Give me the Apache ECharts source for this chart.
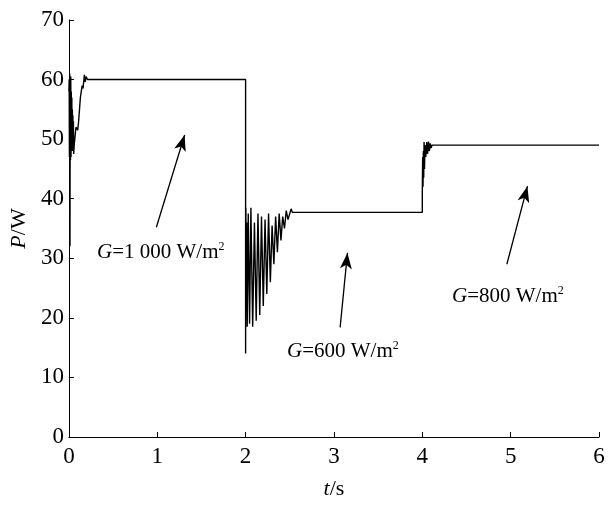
<!DOCTYPE html>
<html>
<head>
<meta charset="utf-8">
<script src="https://cdn.jsdelivr.net/npm/echarts@6/dist/echarts.min.js"></script>
<style>
  html, body { margin: 0; padding: 0; background: #fff; }
  #chart { width: 613px; height: 511px; }
</style>
</head>
<body>
<div id="chart"></div>
<script>
// time (s) and power (W)
const times = [
  0, 0.003, 0.006, 0.009, 0.012, 0.015, 0.018, 0.021, 0.024, 0.027, 0.03, 0.033, 0.036, 0.039, 0.042, 0.045, 0.048, 0.051, 0.054,
  0.06, 0.08, 0.1, 0.11, 0.13, 0.15, 0.16, 0.175, 0.185, 0.195, 0.21,
  2.0, 2.0, 2.003, 2.008, 2.012, 2.018, 2.03, 2.045, 2.06, 2.08, 2.1, 2.12, 2.14, 2.16, 2.18, 2.2, 2.22,
  2.24, 2.26, 2.28, 2.3, 2.32, 2.34, 2.36, 2.38, 2.4, 2.42, 2.44, 2.46, 2.48, 2.5, 2.515, 2.53,
  4.0, 4.0, 4.004, 4.008, 4.012, 4.016, 4.02, 4.025, 4.03, 4.04, 4.05, 4.06, 4.07, 4.08, 4.09, 4.1, 4.11,
  6.0
];
const power = [
  58, 60, 47, 61, 32, 59, 46.5, 60.5, 47, 58, 48, 57, 49, 55, 48, 54, 50, 53, 47.5,
  49, 52, 51.5, 53, 57, 59, 58.5, 60.8, 59.6, 60.5, 60,
  60, 14, 38.5, 24, 36, 18.5, 37.5, 19, 38.5, 18.5, 36, 19.5, 37.5, 20.5, 37, 22, 36.5,
  24, 37.5, 26, 35.5, 29, 37, 31, 37.5, 33, 37, 35, 38, 36.5, 37.5, 38.3, 37.7,
  37.7, 41, 47, 42, 48, 43.5, 49.5, 45, 49, 47, 49.5, 47.5, 49.6, 48, 49.3, 48.5, 49,
  49
];
const xTicks = { min: 0, max: 6, step: 1 };
const yTicks = { min: 0, max: 70, step: 10 };

// arrows: [tail t, tail P, head t, head P]
const arrows = [
  [0.99, 35.2, 1.31, 50.7],
  [3.07, 18.4, 3.153, 30.9],
  [4.957, 29.0, 5.19, 42.1]
];
const labels = ['1 000', '600', '800'];

const serif = 'Liberation Serif';
const chart = echarts.init(document.getElementById('chart'));

const seriesData = times.map((t, i) => [t, power[i]]);

const option = {
  animation: false,
  backgroundColor: '#fff',
  grid: { left: 67, right: 14, top: 20, bottom: 74 },
  xAxis: {
    type: 'value',
    min: xTicks.min, max: xTicks.max, interval: xTicks.step,
    name: '{i|t}/s',
    nameLocation: 'middle',
    nameGap: 41,
    nameTextStyle: {
      fontFamily: serif, fontSize: 22, color: '#000',
      rich: { i: { fontFamily: serif, fontSize: 22, fontStyle: 'italic', color: '#000' } }
    },
    axisLine: { lineStyle: { color: '#000', width: 1 } },
    axisTick: { inside: true, length: 5, lineStyle: { color: '#000' } },
    axisLabel: { fontFamily: serif, fontSize: 23, color: '#000', margin: 8 },
    splitLine: { show: false }
  },
  yAxis: {
    type: 'value',
    min: yTicks.min, max: yTicks.max, interval: yTicks.step,
    name: '{i|P}/W',
    nameLocation: 'middle',
    nameGap: 33,
    nameRotate: 90,
    nameTextStyle: {
      fontFamily: serif, fontSize: 22, color: '#000',
      rich: { i: { fontFamily: serif, fontSize: 22, fontStyle: 'italic', color: '#000' } }
    },
    axisLine: { show: true, lineStyle: { color: '#000', width: 1 } },
    axisTick: { show: true, inside: true, length: 5, lineStyle: { color: '#000' } },
    axisLabel: { fontFamily: serif, fontSize: 23, color: '#000', margin: 5 },
    splitLine: { show: false }
  },
  series: [{
    type: 'line',
    data: seriesData,
    showSymbol: false,
    lineStyle: { color: '#000', width: 1.4 },
    markLine: {
      silent: true,
      symbol: ['none', 'arrow'],
      symbolSize: [9, 16],
      label: { show: false },
      lineStyle: { color: '#000', width: 1.3, type: 'solid' },
      data: arrows.map(a => [{ coord: [a[0], a[1]] }, { coord: [a[2], a[3]] }])
    }
  }]
};
chart.setOption(option);

// annotation text below each arrow tail
const textPos = [[97, 254], [287, 353], [452, 298]];
chart.setOption({
  graphic: labels.map((v, i) => ({
    type: 'text',
    left: textPos[i][0],
    top: textPos[i][1] - 13,
    style: {
      text: '{i|G}=' + v + ' W/m{s|2}',
      font: '21px "' + serif + '"',
      fill: '#000',
      rich: {
        i: { fontFamily: serif, fontSize: 21, fontStyle: 'italic', fill: '#000' },
        s: { fontFamily: serif, fontSize: 12, fill: '#000', padding: [0, 0, 10, 0] }
      }
    }
  }))
});
</script>
</body>
</html>
